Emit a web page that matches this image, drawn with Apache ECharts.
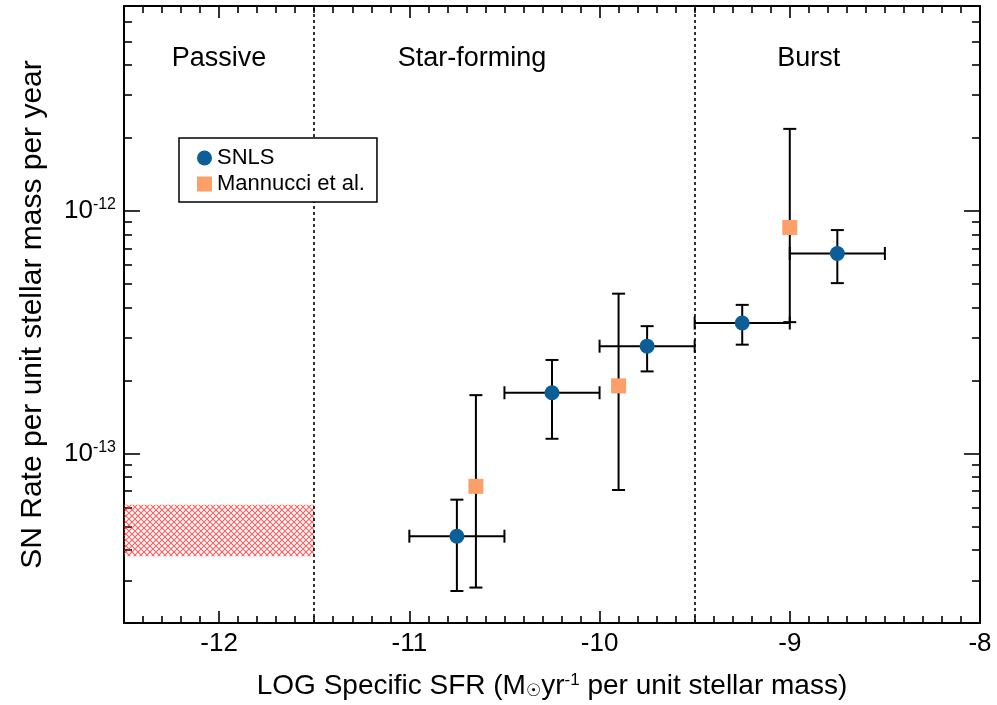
<!DOCTYPE html>
<html>
<head>
<meta charset="utf-8">
<script src="https://cdn.jsdelivr.net/npm/echarts@6/dist/echarts.min.js"></script>
<style>
  html, body { margin: 0; padding: 0; background: #fff; }
  #chart { width: 997px; height: 705px; }
</style>
</head>
<body>
<div id="chart"></div>
<script>
// SNLS rates per specific-SFR bin (x = log sSFR, rate in SNe per unit stellar mass per year)
const snlsX      = [-10.75, -10.25, -9.75, -9.25, -8.75];
const snlsXLow   = [-11.0, -10.5, -10.0, -9.5, -9.0];
const snlsXHigh  = [-10.5, -10.0, -9.5, -9.0, -8.5];
const snlsRate   = [4.56e-14, 1.78e-13, 2.77e-13, 3.45e-13, 6.68e-13];
const snlsLow    = [2.71e-14, 1.15e-13, 2.18e-13, 2.81e-13, 5.04e-13];
const snlsHigh   = [6.45e-14, 2.43e-13, 3.35e-13, 4.10e-13, 8.34e-13];

// Mannucci et al. rates
const mannX      = [-10.65, -9.9, -9.0];
const mannRate   = [7.32e-14, 1.90e-13, 8.55e-13];
const mannLow    = [2.80e-14, 7.07e-14, 3.48e-13];
const mannHigh   = [1.74e-13, 4.56e-13, 2.18e-12];

// Passive-galaxy rate band
const passiveX    = [-12.5, -11.5];
const passiveRate = [3.77e-14, 6.15e-14];

// Galaxy-class boundaries and labels
const classBounds = [-11.5, -9.5];
const classNames  = ['Passive', 'Star-forming', 'Burst'];
const classX      = [-12.0, -10.67, -8.9];
const classRate   = [4.25e-12, 4.25e-12, 4.25e-12];

// Axis ranges and ticks
const xRange      = [-12.5, -8];
const xMajor      = [-12, -11, -10, -9, -8];
const rateRange   = [2e-14, 7e-12];
const rateDecades = [1e-13, 1e-12];

const lg = v => Math.log10(v);

// minor ticks: tenths on x, 2..9 multiples on the log y axis
const xMinor = [];
for (let i = -125; i <= -80; i++) { if (i % 10 !== 0) xMinor.push(i / 10); }
const yMinor = [];
[1e-14, 1e-13, 1e-12].forEach(d => {
  for (let m = 2; m <= 9; m++) {
    const v = m * d;
    if (v >= rateRange[0] && v <= rateRange[1]) yMinor.push(lg(v));
  }
});

// cross-hatch fill for the passive band
const hatch = document.createElement('canvas');
hatch.width = 6; hatch.height = 6;
(function () {
  const c = hatch.getContext('2d');
  c.strokeStyle = 'rgba(255,45,45,0.75)';
  c.lineWidth = 1.2;
  c.beginPath();
  c.moveTo(-1, -1); c.lineTo(7, 7);
  c.moveTo(-1, 7); c.lineTo(7, -1);
  c.stroke();
})();

const FONT = "'Liberation Sans', Arial, Helvetica, sans-serif";
const INK = '#000';

function errorBars(params, api) {
  const x = api.value(0), y = api.value(1);
  const xl = api.value(2), xh = api.value(3), yl = api.value(4), yh = api.value(5);
  const st = { stroke: '#000', lineWidth: 2 };
  const cap = 6.5;
  const ch = [];
  if (xl !== xh) {
    const a = api.coord([xl, y]), b = api.coord([xh, y]);
    ch.push({ type: 'line', shape: { x1: a[0], y1: a[1], x2: b[0], y2: b[1] }, style: st });
    ch.push({ type: 'line', shape: { x1: a[0], y1: a[1] - cap, x2: a[0], y2: a[1] + cap }, style: st });
    ch.push({ type: 'line', shape: { x1: b[0], y1: b[1] - cap, x2: b[0], y2: b[1] + cap }, style: st });
  }
  const c = api.coord([x, yl]), d = api.coord([x, yh]);
  ch.push({ type: 'line', shape: { x1: c[0], y1: c[1], x2: d[0], y2: d[1] }, style: st });
  ch.push({ type: 'line', shape: { x1: c[0] - cap, y1: c[1], x2: c[0] + cap, y2: c[1] }, style: st });
  ch.push({ type: 'line', shape: { x1: d[0] - cap, y1: d[1], x2: d[0] + cap, y2: d[1] }, style: st });
  return { type: 'group', children: ch };
}

const snlsErr = snlsX.map((x, i) => [x, lg(snlsRate[i]), snlsXLow[i], snlsXHigh[i], lg(snlsLow[i]), lg(snlsHigh[i])]);
const mannErr = mannX.map((x, i) => [x, lg(mannRate[i]), x, x, lg(mannLow[i]), lg(mannHigh[i])]);

function xAxisDef(pos, ticks, len, withLine) {
  return {
    type: 'value', position: pos, min: xRange[0], max: xRange[1],
    axisLine: { show: withLine, onZero: false, lineStyle: { color: '#000', width: 2 } },
    axisTick: { show: true, inside: true, length: len, customValues: ticks, lineStyle: { color: '#000', width: 1.6 } },
    axisLabel: withLine && pos === 'bottom'
      ? { show: true, customValues: xMajor, fontSize: 26, fontFamily: FONT, color: INK, margin: 8, formatter: v => String(v) }
      : { show: false },
    splitLine: { show: false }
  };
}
function yAxisDef(pos, ticks, len, withLine, withLabels) {
  return {
    type: 'value', position: pos, min: lg(rateRange[0]), max: lg(rateRange[1]),
    axisLine: { show: withLine, onZero: false, lineStyle: { color: '#000', width: 2 } },
    axisTick: { show: true, inside: true, length: len, customValues: ticks, lineStyle: { color: '#000', width: 1.6 } },
    axisLabel: withLabels
      ? {
          show: true, customValues: rateDecades.map(lg), margin: 8, color: INK,
          formatter: v => '{b|10}{s|' + Math.round(v) + '}',
          rich: {
            b: { fontSize: 26, fontFamily: FONT, color: INK, lineHeight: 28 },
            s: { fontSize: 16, fontFamily: FONT, color: INK, verticalAlign: 'top', lineHeight: 16 }
          }
        }
      : { show: false },
    splitLine: { show: false }
  };
}

const xAxes = [
  xAxisDef('bottom', xMajor, 12, true),
  xAxisDef('bottom', xMinor, 7, false),
  xAxisDef('top', xMajor, 12, true),
  xAxisDef('top', xMinor, 7, false)
];
xAxes[0].name = 'LOG Specific SFR (M{sun|\u2609}yr{sup|-1} per unit stellar mass)';
xAxes[0].nameLocation = 'middle';
xAxes[0].nameGap = 49;
xAxes[0].nameTextStyle = {
  fontSize: 28, fontFamily: FONT, color: INK,
  rich: {
    sun: { fontSize: 17, fontFamily: "'DejaVu Sans', sans-serif", color: INK, verticalAlign: 'bottom', lineHeight: 14 },
    sup: { fontSize: 17, fontFamily: FONT, color: INK, verticalAlign: 'top', lineHeight: 17 }
  }
};

const decadeTicks = rateDecades.map(lg);
const yAxes = [
  yAxisDef('left', decadeTicks, 16, true, true),
  yAxisDef('left', yMinor, 8, false, false),
  yAxisDef('right', decadeTicks, 16, true, false),
  yAxisDef('right', yMinor, 8, false, false)
];
yAxes[0].name = 'SN Rate per unit stellar mass per year';
yAxes[0].nameLocation = 'middle';
yAxes[0].nameGap = 76;
yAxes[0].nameTextStyle = { fontSize: 30, fontFamily: FONT, color: INK };

const option = {
  backgroundColor: '#fff',
  animation: false,
  grid: { left: 124, right: 17, top: 6, bottom: 82 },
  xAxis: xAxes,
  yAxis: yAxes,
  legend: {
    orient: 'vertical', left: 179, top: 138, z: 50,
    padding: [9, 12, 7, 18], itemGap: 4, itemWidth: 15, itemHeight: 15,
    backgroundColor: '#fff', borderColor: '#000', borderWidth: 1.5,
    textStyle: { fontSize: 22, fontFamily: FONT, color: INK },
    data: [{ name: 'SNLS', icon: 'circle' }, { name: 'Mannucci et al.', icon: 'rect' }]
  },
  series: [
    {
      // passive band, class boundaries and class labels
      type: 'scatter', silent: true,
      data: classX.map((x, i) => ({ value: [x, lg(classRate[i])], name: classNames[i] })),
      symbolSize: 0,
      itemStyle: { opacity: 1 },
      label: { show: true, position: 'inside', formatter: p => p.name, fontSize: 27, fontFamily: FONT, color: INK, opacity: 1 },
      markArea: {
        silent: true,
        itemStyle: { color: { image: hatch, repeat: 'repeat' }, borderWidth: 0, opacity: 1 },
        data: [[{ xAxis: passiveX[0], yAxis: lg(passiveRate[1]) }, { xAxis: passiveX[1], yAxis: lg(passiveRate[0]) }]]
      },
      markLine: {
        silent: true, symbol: 'none', label: { show: false },
        lineStyle: { color: '#000', width: 1.6, type: [3, 3], opacity: 1 },
        data: classBounds.map(v => ({ xAxis: v }))
      },
      z: 1
    },
    {
      type: 'custom', renderItem: errorBars, data: snlsErr, z: 3, silent: true,
      encode: { x: [0, 2, 3], y: [1, 4, 5] }
    },
    {
      type: 'custom', renderItem: errorBars, data: mannErr, z: 3, silent: true,
      encode: { x: [0, 2, 3], y: [1, 4, 5] }
    },
    {
      name: 'Mannucci et al.', type: 'scatter', symbol: 'rect', symbolSize: 15, z: 5,
      itemStyle: { color: '#fd9f68', opacity: 1 },
      data: mannX.map((x, i) => [x, lg(mannRate[i])])
    },
    {
      name: 'SNLS', type: 'scatter', symbol: 'circle', symbolSize: 15, z: 5,
      itemStyle: { color: '#0b5e98', opacity: 1 },
      data: snlsX.map((x, i) => [x, lg(snlsRate[i])])
    }
  ]
};

echarts.init(document.getElementById('chart')).setOption(option);
</script>
</body>
</html>
